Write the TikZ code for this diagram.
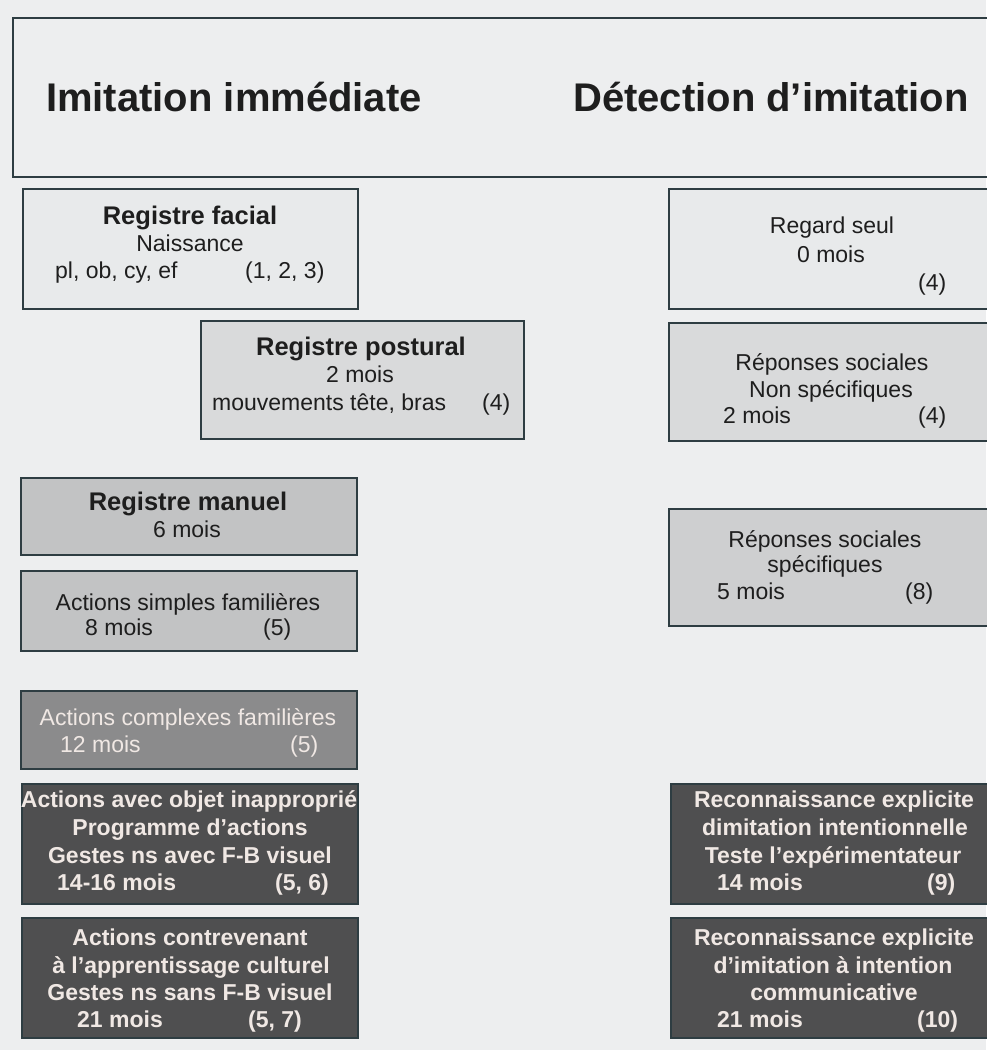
\documentclass[tikz,border=0pt]{standalone}
\usepackage{fontspec}
\setmainfont{Liberation Sans}
\definecolor{paper}{HTML}{EDEEEF}
\definecolor{edge}{HTML}{2E3D42}
\definecolor{f1}{HTML}{E8EAEB}
\definecolor{f2}{HTML}{D9DADB}
\definecolor{f3}{HTML}{C2C3C4}
\definecolor{f4}{HTML}{CECFD0}
\definecolor{f5}{HTML}{8B8B8C}
\definecolor{f6}{HTML}{4F4F50}
\definecolor{lt}{HTML}{F0E8E4}
\definecolor{ink}{HTML}{1E1E1E}
\tikzset{
  box/.style={draw=edge, line width=2.2pt, rectangle, inner sep=0pt, anchor=north west},
  txt/.style={inner sep=0pt, anchor=base, text=ink, font=\fontsize{23}{27}\selectfont},
  ltxt/.style={txt, anchor=base west},
  head/.style={txt, font=\bfseries\fontsize{25.5}{30}\selectfont},
  wt/.style={txt, text=lt, font=\bfseries\fontsize{23}{27}\selectfont},
  lwt/.style={wt, anchor=base west},
  title/.style={inner sep=0pt, anchor=base, text=ink, font=\bfseries\fontsize{40}{44}\selectfont}
}
\begin{document}
\begin{tikzpicture}[x=1pt,y=-1pt]
\useasboundingbox (0,0) rectangle (986,1050);
\fill[paper] (0,0) rectangle (986,1050);
% header
\node[box, minimum width=990pt, minimum height=159pt] (hdr) at (12,17) {};
\node[title] (ti1) at (234,111) {Imitation immédiate};
\node[title] (ti2) at (771,111) {Détection d’imitation};
% left column
\node[box, fill=f1, minimum width=335pt, minimum height=120pt] (b1) at (22,188) {};
\node[head] (b1a) at (190,224) {Registre facial};
\node[txt] (b1b) at (190,251) {Naissance};
\node[ltxt] (b1c) at (55,278) {pl, ob, cy, ef};
\node[ltxt] (b1d) at (245,278) {(1, 2, 3)};

\node[box, fill=f2, minimum width=323pt, minimum height=118pt] (b2) at (200,320) {};
\node[head] (b2a) at (361,355) {Registre postural};
\node[txt] (b2b) at (360,382) {2 mois};
\node[ltxt] (b2c) at (212,410) {mouvements tête, bras};
\node[ltxt] (b2d) at (482,410) {(4)};

\node[box, fill=f3, minimum width=336pt, minimum height=77pt] (b3) at (20,477) {};
\node[head] (b3a) at (188,510) {Registre manuel};
\node[txt] (b3b) at (187,537) {6 mois};

\node[box, fill=f3, minimum width=336pt, minimum height=80pt] (b4) at (20,570) {};
\node[txt] (b4a) at (188,610) {Actions simples familières};
\node[ltxt] (b4b) at (85,635) {8 mois};
\node[ltxt] (b4c) at (263,635) {(5)};

\node[box, fill=f5, minimum width=336pt, minimum height=78pt] (b5) at (20,690) {};
\node[txt, text=lt] (b5a) at (188,725) {Actions complexes familières};
\node[ltxt, text=lt] (b5b) at (60,752) {12 mois};
\node[ltxt, text=lt] (b5c) at (290,752) {(5)};

\node[box, fill=f6, minimum width=336pt, minimum height=120pt] (b6) at (21,783) {};
\node[wt] (b6a) at (189,807) {Actions avec objet inapproprié};
\node[wt] (b6b) at (190,835) {Programme d’actions};
\node[wt] (b6c) at (190,863) {Gestes ns avec F-B visuel};
\node[lwt] (b6d) at (57,890) {14-16 mois};
\node[lwt] (b6e) at (275,890) {(5, 6)};

\node[box, fill=f6, minimum width=336pt, minimum height=120pt] (b7) at (21,917) {};
\node[wt] (b7a) at (190,945) {Actions contrevenant};
\node[wt] (b7b) at (191,973) {à l’apprentissage culturel};
\node[wt] (b7c) at (190,1000) {Gestes ns sans F-B visuel};
\node[lwt] (b7d) at (77,1027) {21 mois};
\node[lwt] (b7e) at (248,1027) {(5, 7)};
% right column
\node[box, fill=f1, minimum width=330pt, minimum height=120pt] (r1) at (668,188) {};
\node[txt] (r1a) at (832,233) {Regard seul};
\node[txt] (r1b) at (831,262) {0 mois};
\node[ltxt] (r1c) at (918,290) {(4)};

\node[box, fill=f2, minimum width=330pt, minimum height=118pt] (r2) at (668,322) {};
\node[txt] (r2a) at (832,370) {Réponses sociales};
\node[txt] (r2b) at (831,397) {Non spécifiques};
\node[ltxt] (r2c) at (723,423) {2 mois};
\node[ltxt] (r2d) at (918,423) {(4)};

\node[box, fill=f4, minimum width=330pt, minimum height=117pt] (r3) at (668,508) {};
\node[txt] (r3a) at (825,547) {Réponses sociales};
\node[txt] (r3b) at (825,572) {spécifiques};
\node[ltxt] (r3c) at (717,599) {5 mois};
\node[ltxt] (r3d) at (905,599) {(8)};

\node[box, fill=f6, minimum width=330pt, minimum height=120pt] (r4) at (670,783) {};
\node[wt] (r4a) at (834,807) {Reconnaissance explicite};
\node[wt] (r4b) at (835,835) {dimitation intentionnelle};
\node[wt] (r4c) at (833,863) {Teste l’expérimentateur};
\node[lwt] (r4d) at (717,890) {14 mois};
\node[lwt] (r4e) at (927,890) {(9)};

\node[box, fill=f6, minimum width=330pt, minimum height=120pt] (r5) at (670,917) {};
\node[wt] (r5a) at (834,945) {Reconnaissance explicite};
\node[wt] (r5b) at (833,973) {d’imitation à intention};
\node[wt] (r5c) at (834,1000) {communicative};
\node[lwt] (r5d) at (717,1027) {21 mois};
\node[lwt] (r5e) at (917,1027) {(10)};
\end{tikzpicture}
\end{document}
